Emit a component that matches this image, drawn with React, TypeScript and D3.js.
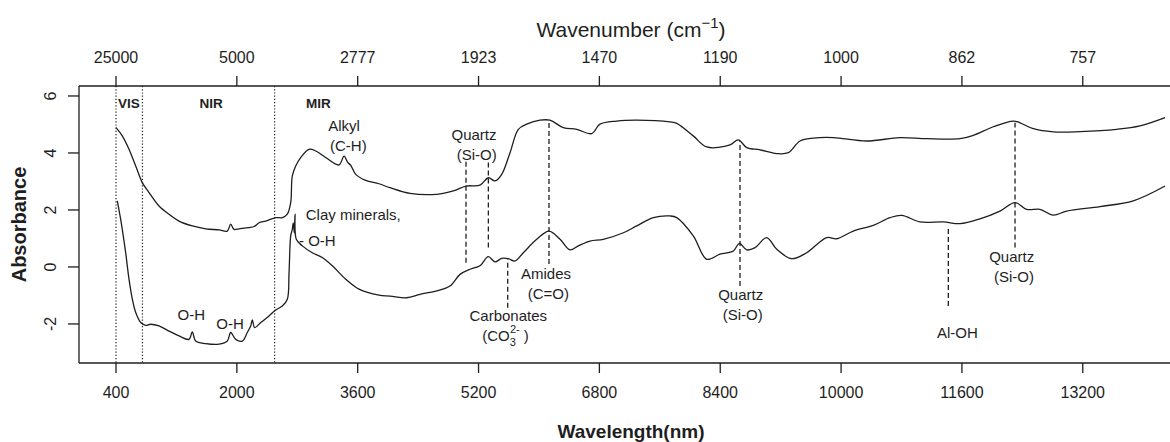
import React from "react";
import * as d3 from "d3";

// Sample A (upper spectrum): [position (nm scale), absorbance]
const sampleA: [number, number][] = [
  [400, 4.89], [483, 4.6], [572, 4.13], [661, 3.54], [748, 2.96], [837, 2.61], [969, 2.14],
  [1102, 1.85], [1234, 1.61], [1410, 1.44], [1588, 1.34], [1764, 1.3], [1874, 1.26], [1919, 1.5],
  [1962, 1.32], [2029, 1.34], [2161, 1.38], [2230, 1.42], [2294, 1.55], [2382, 1.61], [2514, 1.73],
  [2602, 1.73], [2668, 1.85], [2713, 2.26], [2734, 3.19], [2779, 3.54], [2845, 3.84], [2955, 4.13],
  [3044, 4.07], [3176, 3.84], [3353, 3.58], [3419, 3.89], [3470, 3.66], [3507, 3.57], [3574, 3.25],
  [3706, 3.04], [3882, 2.92], [4028, 2.78], [4293, 2.58], [4646, 2.55], [4866, 2.67], [5034, 2.84],
  [5219, 2.87], [5329, 3.13], [5418, 3.02], [5507, 3.25], [5617, 4.01], [5727, 4.83], [5838, 5.01],
  [6014, 5.15], [6146, 5.15], [6322, 4.89], [6500, 4.83], [6698, 4.68], [6808, 5.01], [7029, 5.12],
  [7294, 5.15], [7735, 5.09], [7824, 5.04], [8043, 4.6], [8221, 4.21], [8529, 4.28], [8639, 4.46],
  [8751, 4.19], [8927, 4.11], [9148, 3.98], [9301, 4.01], [9456, 4.42], [9632, 4.52], [9897, 4.54],
  [10339, 4.42], [10780, 4.54], [11133, 4.5], [11575, 4.5], [11751, 4.62], [12016, 4.92],
  [12280, 5.12], [12369, 5.06], [12545, 4.85], [12810, 4.74], [13163, 4.75], [13649, 4.83],
  [13958, 4.95], [14289, 5.24],
];

// Sample B (lower spectrum)
const sampleB: [number, number][] = [
  [417, 2.32], [462, 1.67], [483, 1.32], [528, 0.5], [572, -0.43], [616, -1.13], [661, -1.6],
  [727, -1.95], [793, -2.05], [859, -2.01], [969, -2.07], [1102, -2.25], [1234, -2.42],
  [1367, -2.54], [1410, -2.28], [1455, -2.6], [1588, -2.69], [1764, -2.71], [1874, -2.6],
  [1919, -2.3], [1985, -2.54], [2072, -2.6], [2138, -2.3], [2183, -2.07], [2205, -1.86],
  [2236, -2.13], [2316, -1.95], [2426, -1.72], [2514, -1.51], [2602, -1.37], [2668, -1.13],
  [2691, -0.2], [2713, 1.09], [2734, 1.32], [2747, 1.55], [2761, 1.2], [2770, 1.85], [2787, 0.97],
  [2867, 0.74], [2999, 0.5], [3131, 0.33], [3264, 0.04], [3441, -0.43], [3617, -0.78],
  [3882, -0.99], [4028, -1.02], [4249, -1.08], [4425, -0.96], [4646, -0.84], [4822, -0.67],
  [4955, -0.26], [5087, -0.08], [5219, 0.04], [5329, 0.36], [5418, 0.18], [5507, 0.3],
  [5594, 0.29], [5683, 0.21], [5793, 0.5], [5970, 0.97], [6133, 1.26], [6279, 0.97], [6411, 0.6],
  [6521, 0.74], [6676, 0.91], [6852, 0.97], [7117, 1.2], [7294, 1.44], [7514, 1.73], [7735, 1.79],
  [7824, 1.73], [8043, 1.09], [8221, 0.27], [8397, 0.45], [8573, 0.56], [8653, 0.83], [8751, 0.6],
  [8861, 0.68], [9015, 1.03], [9148, 0.62], [9346, 0.29], [9545, 0.5], [9810, 1.03], [9942, 0.99],
  [10162, 1.26], [10427, 1.46], [10648, 1.73], [10803, 1.81], [11045, 1.58], [11354, 1.58],
  [11575, 1.52], [11839, 1.69], [12104, 1.96], [12303, 2.26], [12457, 2.02], [12634, 2.02],
  [12810, 1.82], [12987, 1.96], [13428, 2.12], [13869, 2.32], [14289, 2.84],
];

const bottomTicks = [400, 2000, 3600, 5200, 6800, 8400, 10000, 11600, 13200];
const topTickLabels = ["25000", "5000", "2777", "1923", "1470", "1190", "1000", "862", "757"];
const yTicks = [-2, 0, 2, 4, 6];

const regionBounds = [400, 750, 2500];
const regionLabels: { text: string; x: number }[] = [
  { text: "VIS", x: 572 },
  { text: "NIR", x: 1658 },
  { text: "MIR", x: 3078 },
];

// vertical dashed annotation lines: [x, yFrom, yTo]
const bandLines: [number, number, number][] = [
  [5034, 0.15, 3.72],
  [5330, 0.68, 3.72],
  [6133, 0.1, 5.12],
  [5586, -1.43, 0.27],
  [8662, -0.67, 4.42],
  [11420, -1.37, 1.44],
  [12303, 0.68, 5.06],
];

// annotation texts: [text, x, y, anchor]
const bandLabels: [string, number, number, string][] = [
  ["Alkyl", 3419, 4.97, "middle"],
  ["(C-H)", 3476, 4.27, "middle"],
  ["Clay minerals,", 2912, 1.85, "start"],
  ["- O-H", 2823, 0.91, "start"],
  ["O-H", 1397, -1.66, "middle"],
  ["O-H", 1909, -1.99, "middle"],
  ["Quartz", 5140, 4.66, "middle"],
  ["(Si-O)", 5175, 3.96, "middle"],
  ["Amides", 6093, -0.22, "middle"],
  ["(C=O)", 6124, -0.92, "middle"],
  ["Carbonates", 5594, -1.7, "middle"],
  ["Quartz", 8671, -0.96, "middle"],
  ["(Si-O)", 8697, -1.66, "middle"],
  ["Al-OH", 11539, -2.31, "middle"],
  ["Quartz", 12259, 0.36, "middle"],
  ["(Si-O)", 12290, -0.34, "middle"],
];
const carbonateFormula = { x: 5594, y: -2.42 };

const W = 1170;
const H = 442;
const L = 79, R = 1166, T = 86, B = 363;
const FONT = "'Liberation Sans', Arial, Helvetica, sans-serif";
const INK = "#1e1e1e";

export default function App() {
  const x = d3.scaleLinear().domain([-90, 14302]).range([L, R]);
  const y = d3.scaleLinear().domain([-3.37, 6.35]).range([B, T]);
  const line = d3
    .line<[number, number]>()
    .x((d) => x(d[0]))
    .y((d) => y(d[1]))
    .curve(d3.curveCatmullRom.alpha(0.5));

  return (
    <svg
      width={W}
      height={H}
      style={{ position: "absolute", left: 0, top: 0, background: "#fff" }}
      fontFamily={FONT}
    >
      <rect x={0} y={0} width={W} height={H} fill="#fff" />
      {/* frame */}
      <line x1={L} x2={W} y1={T} y2={T} stroke={INK} strokeWidth={1.3} />
      <line x1={L} x2={W} y1={B} y2={B} stroke={INK} strokeWidth={1.3} />
      <line x1={L} x2={L} y1={T} y2={B} stroke={INK} strokeWidth={1.3} />

      {/* bottom axis */}
      {bottomTicks.map((t) => (
        <g key={"b" + t}>
          <line x1={x(t)} x2={x(t)} y1={B} y2={B + 10} stroke={INK} strokeWidth={1.3} />
          <text x={x(t)} y={B + 29} dy="0.36em" textAnchor="middle" fontSize={16} fill={INK}>
            {t}
          </text>
        </g>
      ))}
      {/* top axis */}
      {bottomTicks.map((t, i) => (
        <g key={"t" + t}>
          <line x1={x(t)} x2={x(t)} y1={T} y2={T - 10} stroke={INK} strokeWidth={1.3} />
          <text x={x(t)} y={T - 29} dy="0.36em" textAnchor="middle" fontSize={16} fill={INK}>
            {topTickLabels[i]}
          </text>
        </g>
      ))}
      {/* left axis */}
      {yTicks.map((t) => (
        <g key={"y" + t}>
          <line x1={L} x2={L - 11} y1={y(t)} y2={y(t)} stroke={INK} strokeWidth={1.3} />
          <text
            x={50}
            y={y(t)}
            dy="0.36em"
            textAnchor="middle"
            fontSize={16}
            fill={INK}
            transform={`rotate(-90, 50, ${y(t)})`}
          >
            {t}
          </text>
        </g>
      ))}

      {/* axis titles */}
      <text x={631} y={37} textAnchor="middle" fontSize={21} fill={INK}>
        Wavenumber (cm
        <tspan dy={-9} fontSize={15}>−1</tspan>
        <tspan dy={9}>)</tspan>
      </text>
      <text x={631} y={438} textAnchor="middle" fontSize={19} fontWeight="bold" fill={INK}>
        Wavelength(nm)
      </text>
      <text
        x={19}
        y={(T + B) / 2}
        dy="0.36em"
        textAnchor="middle"
        fontSize={20}
        fontWeight="bold"
        fill={INK}
        transform={`rotate(-90, 19, ${(T + B) / 2})`}
      >
        Absorbance
      </text>

      {/* region boundaries */}
      {regionBounds.map((b) => (
        <line
          key={"r" + b}
          x1={x(b)}
          x2={x(b)}
          y1={T}
          y2={B}
          stroke={INK}
          strokeWidth={1.2}
          strokeDasharray="1.2,2"
        />
      ))}
      {regionLabels.map((r) => (
        <text
          key={r.text}
          x={x(r.x)}
          y={y(5.76)}
          dy="0.36em"
          textAnchor="middle"
          fontSize={13.5}
          fontWeight="bold"
          fill={INK}
        >
          {r.text}
        </text>
      ))}

      {/* spectra */}
      <path d={line(sampleA) ?? ""} fill="none" stroke={INK} strokeWidth={1.3} strokeLinejoin="round" />
      <path d={line(sampleB) ?? ""} fill="none" stroke={INK} strokeWidth={1.3} strokeLinejoin="round" />

      {/* band lines */}
      {bandLines.map(([bx, y0, y1], i) => (
        <line
          key={"bl" + i}
          x1={x(bx)}
          x2={x(bx)}
          y1={y(y0)}
          y2={y(y1)}
          stroke={INK}
          strokeWidth={1.3}
          strokeDasharray="5,3"
        />
      ))}
      {bandLabels.map(([txt, bx, by, anchor], i) => (
        <text
          key={"lab" + i}
          x={x(bx)}
          y={y(by)}
          dy="0.36em"
          textAnchor={anchor as any}
          fontSize={15}
          fill={INK}
        >
          {txt}
        </text>
      ))}
      <text
        x={x(carbonateFormula.x) - 26}
        y={y(carbonateFormula.y)}
        dy="0.36em"
        fontSize={15}
        fill={INK}
      >
        (CO
        <tspan dy={5} fontSize={11}>3</tspan>
        <tspan dx={-6} dy={-13} fontSize={11}>2-</tspan>
        <tspan dy={8}> )</tspan>
      </text>
    </svg>
  );
}
